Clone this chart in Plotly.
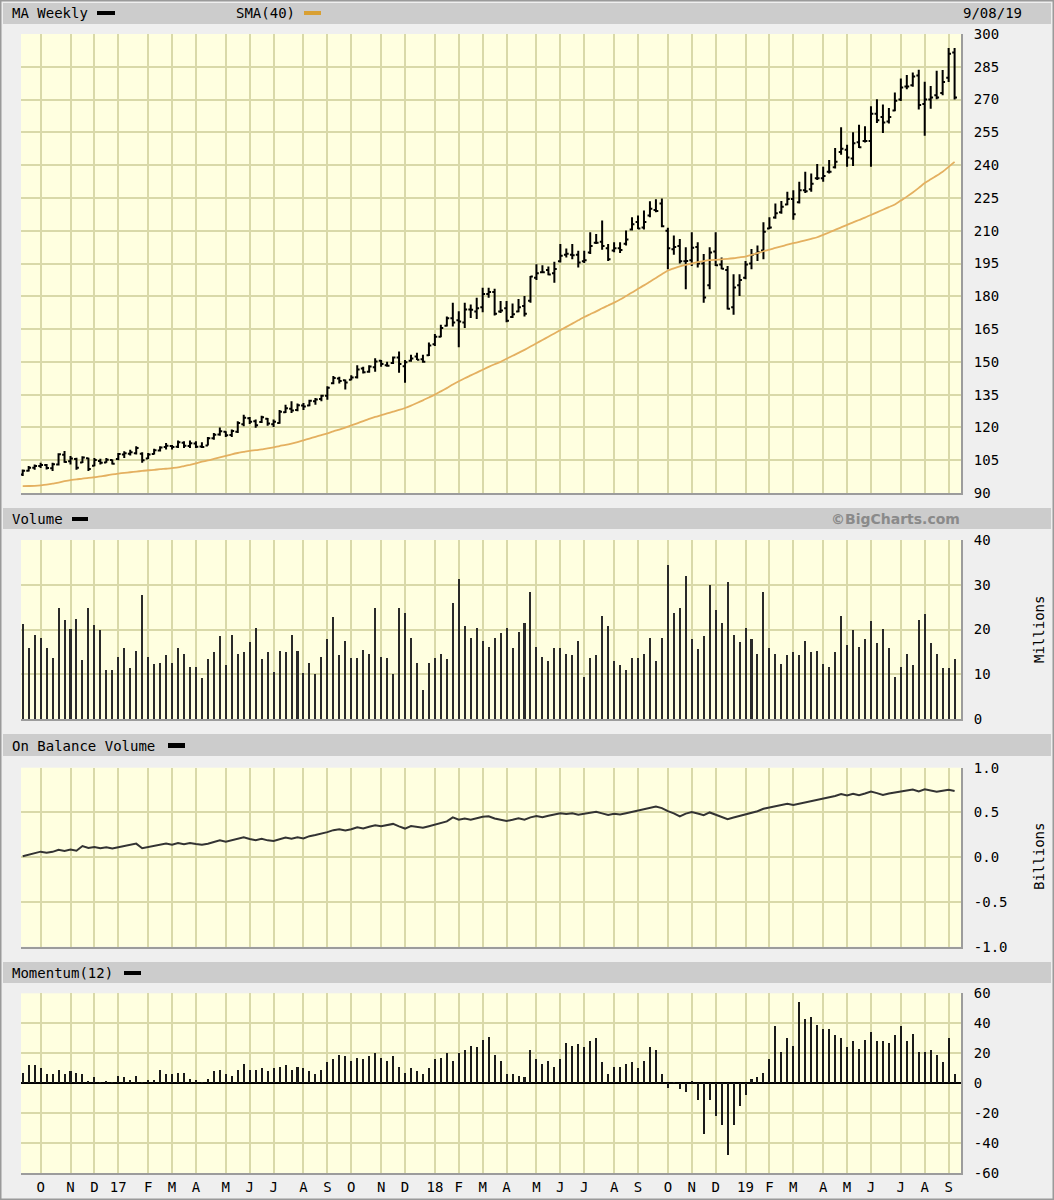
import pandas as pd
import plotly.graph_objects as go

# ---------------- data ----------------
# weekly bars, dated by the Sunday that ends each week
dates = pd.date_range("2016-09-11", periods=157, freq="7D")

high = [100.8, 102.3, 103.0, 103.8, 103.3, 103.8, 108.2, 109.2, 106.9, 106.1,
        106.8, 106.1, 106.0, 105.7, 106.0, 105.3, 108.3, 109.1, 109.8, 111.4,
        108.6, 108.3, 110.3, 111.4, 112.9, 112.0, 114.0, 113.7, 114.0, 113.7,
        113.2, 115.6, 117.5, 120.0, 118.2, 119.0, 122.8, 125.8, 124.8, 123.6,
        125.4, 124.3, 123.6, 128.0, 130.4, 132.0, 130.9, 131.2, 132.7, 133.5,
        135.0, 138.8, 143.5, 143.2, 141.9, 143.9, 148.5, 147.8, 148.5, 151.6,
        150.8, 150.1, 152.4, 154.7, 150.8, 153.2, 154.2, 153.2, 158.8, 162.8,
        167.0, 170.8, 177.0, 173.2, 177.0, 176.2, 179.3, 183.9, 183.9, 183.5,
        177.8, 177.8, 176.7, 178.8, 180.1, 189.3, 194.7, 194.2, 193.6, 195.8,
        203.9, 201.9, 203.9, 200.8, 200.8, 209.3, 208.5, 214.7, 203.9, 204.7,
        204.7, 210.1, 216.2, 217.0, 219.3, 223.5, 224.4, 224.7, 211.3, 207.8,
        206.2, 202.4, 209.3, 204.7, 199.3, 202.4, 209.3, 197.8, 193.9, 190.1,
        190.1, 196.2, 201.6, 203.2, 213.9, 216.2, 222.4, 223.6, 227.8, 228.5,
        232.4, 237.0, 236.2, 240.5, 239.3, 242.4, 247.8, 257.3, 249.3, 255.0,
        258.5, 257.8, 267.0, 270.1, 267.8, 266.2, 273.2, 279.6, 281.2, 282.4,
        283.6, 278.1, 276.2, 283.2, 283.5, 293.6, 293.6]

low = [97.8, 99.8, 100.6, 101.4, 100.7, 100.1, 102.6, 103.8, 103.0, 100.6,
       103.7, 100.1, 102.2, 103.0, 103.8, 103.0, 105.0, 106.0, 107.1, 107.6,
       103.8, 105.5, 107.6, 109.0, 109.9, 109.9, 110.6, 110.6, 110.6, 110.6,
       110.6, 111.7, 114.4, 116.2, 115.6, 115.6, 117.5, 120.5, 121.6, 119.8,
       122.0, 120.8, 120.2, 121.7, 126.6, 126.6, 127.4, 128.0, 129.7, 130.4,
       132.0, 132.7, 139.8, 140.1, 137.3, 141.6, 142.4, 144.7, 145.0, 145.5,
       147.8, 147.8, 149.0, 145.0, 140.4, 150.1, 150.8, 149.6, 152.7, 157.3,
       161.3, 166.2, 166.2, 156.7, 165.5, 170.1, 169.6, 172.7, 179.3, 171.2,
       172.4, 168.1, 170.1, 172.7, 170.8, 177.0, 187.5, 190.5, 189.6, 186.2,
       195.5, 197.8, 197.0, 193.2, 195.2, 199.3, 203.9, 201.3, 196.2, 200.1,
       199.8, 203.2, 210.1, 210.8, 210.5, 216.2, 218.5, 211.6, 192.4, 199.0,
       195.0, 183.2, 193.9, 193.2, 177.0, 183.2, 193.9, 192.4, 173.9, 171.6,
       180.1, 187.8, 192.4, 196.2, 197.0, 210.8, 215.5, 217.8, 221.6, 215.0,
       222.4, 227.3, 227.8, 233.2, 232.4, 236.2, 238.5, 244.7, 239.3, 239.6,
       247.8, 250.4, 239.3, 259.3, 254.7, 259.0, 264.7, 269.3, 274.7, 275.9,
       265.5, 253.5, 265.8, 270.1, 272.0, 278.0, 270.0]

open_ = [98.5, 100.2, 101.5, 102.4, 102.8, 101.3, 103.0, 107.5, 104.5, 105.6,
         104.0, 105.9, 102.5, 104.6, 104.0, 105.1, 105.5, 107.6, 108.0, 108.2,
         108.0, 105.8, 107.8, 109.5, 111.0, 111.5, 111.2, 113.0, 111.5, 112.6,
         111.3, 111.7, 115.0, 116.8, 118.0, 116.5, 118.0, 121.5, 124.2, 122.8,
         122.5, 124.0, 121.5, 122.0, 127.0, 128.5, 128.0, 130.0, 130.0, 132.0,
         133.0, 134.5, 140.2, 142.4, 141.6, 141.8, 143.0, 147.0, 145.5, 147.5,
         150.5, 148.4, 149.5, 152.0, 148.0, 150.5, 152.5, 151.2, 153.0, 158.0,
         161.5, 166.5, 170.0, 169.0, 168.0, 174.0, 173.0, 175.0, 181.0, 182.0,
         173.0, 174.5, 170.5, 173.0, 175.5, 178.0, 188.5, 191.0, 192.0, 190.5,
         196.0, 199.0, 199.0, 199.0, 196.0, 200.0, 204.5, 205.0, 202.0, 201.0,
         202.0, 204.0, 210.5, 214.0, 211.5, 217.0, 219.5, 222.5, 210.0, 201.5,
         203.0, 196.0, 196.5, 202.5, 195.0, 185.0, 200.5, 194.5, 192.0, 175.0,
         185.0, 188.5, 195.0, 199.5, 201.0, 211.0, 216.0, 218.5, 222.0, 224.5,
         223.0, 228.5, 229.0, 234.0, 234.0, 237.0, 239.0, 246.0, 247.0, 243.0,
         250.5, 251.0, 251.0, 263.5, 262.0, 260.0, 265.0, 270.0, 276.0, 276.5,
         281.0, 268.0, 270.0, 272.0, 273.0, 280.0, 291.5]

close = [100.2, 101.6, 102.3, 102.8, 101.4, 103.1, 107.7, 104.2, 105.8, 101.6,
         106.2, 101.0, 105.1, 103.8, 105.2, 103.4, 107.8, 108.2, 108.6, 110.6,
         105.0, 107.6, 109.6, 110.8, 111.6, 111.0, 113.2, 111.6, 112.8, 111.2,
         111.0, 115.0, 116.6, 118.2, 116.4, 118.4, 122.0, 124.4, 122.6, 121.0,
         124.6, 121.8, 122.6, 127.2, 128.8, 127.8, 130.1, 129.6, 132.2, 132.8,
         134.5, 138.2, 142.6, 141.2, 140.5, 142.8, 146.5, 145.2, 147.9, 150.2,
         149.0, 148.2, 152.0, 149.0, 149.8, 151.5, 151.0, 150.0, 157.5, 161.5,
         165.5, 170.0, 168.0, 168.5, 174.0, 173.8, 174.5, 181.0, 182.0, 172.0,
         173.5, 168.8, 171.8, 175.0, 172.0, 189.0, 190.5, 191.0, 190.0, 192.5,
         198.5, 199.5, 198.8, 195.5, 196.5, 203.0, 204.5, 203.0, 197.0, 202.0,
         201.2, 206.0, 213.0, 211.0, 214.0, 220.0, 219.0, 212.0, 202.0, 202.5,
         196.0, 196.2, 202.2, 195.0, 179.5, 200.0, 194.2, 192.6, 174.3, 184.0,
         187.5, 194.5, 199.0, 200.2, 209.5, 211.5, 218.0, 221.0, 224.5, 217.5,
         228.5, 228.0, 231.5, 234.0, 235.0, 237.0, 241.5, 247.5, 243.5, 250.0,
         248.2, 251.0, 263.5, 260.5, 259.5, 262.0, 269.5, 275.5, 276.0, 280.5,
         267.5, 270.0, 271.0, 271.0, 278.0, 291.0, 271.0]

sma40 = [93.1, 93.2, 93.3, 93.5, 93.8, 94.3, 94.8, 95.4, 95.9, 96.2,
         96.6, 96.9, 97.2, 97.6, 98.0, 98.5, 98.9, 99.2, 99.5, 99.8,
         100.1, 100.4, 100.6, 100.9, 101.1, 101.4, 101.7, 102.3, 102.9, 103.6,
         104.3, 104.9, 105.6, 106.3, 107.0, 107.7, 108.3, 108.8, 109.3, 109.6,
         110.0, 110.4, 110.9, 111.5, 112.0, 112.6, 113.3, 114.1, 114.9, 115.7,
         116.5, 117.3, 118.2, 119.0, 119.9, 120.9, 121.9, 122.9, 123.9, 124.8,
         125.6, 126.4, 127.2, 128.0, 128.9, 130.0, 131.2, 132.4, 133.7, 135.0,
         136.5, 138.0, 139.6, 141.1, 142.5, 143.8, 145.1, 146.4, 147.7, 148.9,
         150.0, 151.4, 152.8, 154.1, 155.5, 157.0, 158.5, 160.0, 161.5, 163.0,
         164.5, 166.0, 167.5, 169.0, 170.5, 171.8, 173.1, 174.5, 175.8, 177.1,
         178.5, 180.1, 181.7, 183.4, 185.0, 186.7, 188.4, 190.1, 191.8, 192.8,
         193.7, 194.4, 195.0, 195.6, 196.1, 196.5, 196.7, 196.9, 197.1, 197.4,
         197.8, 198.2, 198.9, 199.7, 200.6, 201.3, 202.1, 202.8, 203.6, 204.3,
         204.9, 205.6, 206.3, 207.0, 208.1, 209.2, 210.4, 211.5, 212.7, 213.8,
         214.9, 216.0, 217.2, 218.4, 219.6, 220.8, 222.0, 223.8, 225.6, 227.5,
         229.6, 231.8, 233.5, 235.2, 237.0, 239.2, 241.5]

volume_m = [21.2, 15.8, 18.8, 18.2, 15.8, 13.6, 24.8, 22.1, 20.1, 22.4,
            13.2, 24.8, 21.0, 19.9, 11.0, 11.0, 13.9, 15.8, 11.4, 15.2,
            27.7, 13.9, 12.3, 12.6, 14.3, 12.6, 15.8, 14.6, 11.7, 11.7,
            9.1, 13.3, 14.9, 18.5, 12.0, 18.8, 14.6, 14.9, 17.1, 20.4,
            13.3, 14.9, 10.6, 15.2, 14.9, 18.8, 15.2, 10.3, 12.6, 10.0,
            13.9, 17.9, 22.7, 14.3, 17.5, 13.6, 13.6, 15.5, 14.6, 24.8,
            13.9, 13.6, 10.0, 24.8, 23.7, 18.2, 12.6, 6.5, 12.6, 13.6,
            14.6, 13.3, 26.0, 31.3, 20.7, 18.2, 20.4, 17.5, 16.2, 18.2,
            19.2, 20.4, 15.8, 19.5, 21.4, 28.3, 16.2, 13.9, 12.9, 15.8,
            15.8, 14.6, 14.3, 17.5, 9.4, 13.6, 14.3, 23.0, 20.7, 12.9,
            12.0, 11.0, 13.6, 13.6, 14.6, 18.2, 12.9, 18.2, 34.4, 23.6,
            24.7, 31.9, 17.8, 15.6, 18.5, 29.9, 24.3, 21.4, 30.6, 18.8,
            17.2, 20.4, 17.8, 14.6, 28.3, 15.9, 14.6, 12.3, 14.3, 14.9,
            14.3, 17.5, 14.9, 15.2, 12.3, 11.6, 14.9, 23.0, 16.6, 19.9,
            16.2, 17.8, 21.8, 16.9, 20.1, 15.9, 9.4, 11.6, 14.6, 12.0,
            22.1, 23.4, 16.9, 14.6, 11.3, 11.3, 13.3]

obv_b = [0.010, 0.028, 0.045, 0.062, 0.050, 0.060, 0.082, 0.070, 0.085, 0.072,
         0.125, 0.102, 0.115, 0.101, 0.112, 0.098, 0.112, 0.128, 0.140, 0.152,
         0.100, 0.112, 0.127, 0.140, 0.152, 0.140, 0.158, 0.146, 0.158, 0.147,
         0.138, 0.150, 0.165, 0.188, 0.172, 0.188, 0.207, 0.222, 0.204, 0.190,
         0.205, 0.188, 0.182, 0.200, 0.220, 0.207, 0.222, 0.210, 0.235, 0.248,
         0.262, 0.280, 0.302, 0.312, 0.298, 0.312, 0.335, 0.322, 0.340, 0.358,
         0.345, 0.358, 0.372, 0.345, 0.320, 0.348, 0.338, 0.328, 0.345, 0.362,
         0.375, 0.400, 0.445, 0.418, 0.432, 0.420, 0.436, 0.452, 0.458, 0.432,
         0.418, 0.405, 0.418, 0.436, 0.420, 0.445, 0.460, 0.447, 0.462, 0.475,
         0.492, 0.482, 0.490, 0.475, 0.484, 0.498, 0.508, 0.490, 0.472, 0.484,
         0.476, 0.490, 0.505, 0.518, 0.532, 0.548, 0.565, 0.548, 0.514, 0.490,
         0.455, 0.487, 0.505, 0.489, 0.470, 0.500, 0.476, 0.455, 0.424, 0.443,
         0.460, 0.480, 0.498, 0.513, 0.541, 0.557, 0.572, 0.584, 0.598, 0.584,
         0.598, 0.615, 0.630, 0.645, 0.657, 0.668, 0.683, 0.706, 0.690, 0.709,
         0.693, 0.711, 0.733, 0.716, 0.696, 0.712, 0.721, 0.733, 0.745, 0.757,
         0.735, 0.758, 0.745, 0.731, 0.742, 0.753, 0.740]

momentum = [7, 12, 12, 10, 6, 6, 9, 6, 8, 7,
            6, 1, 4, 0.3, 1, 0.3, 5, 4, 2, 5,
            0.3, 2, 2, 9, 6, 6, 7, 7, 3, 2,
            0.3, 3, 8, 9, 6, 5, 9, 13, 9, 9,
            10, 8, 10, 11, 12, 9, 11, 10, 8, 6,
            9, 14, 16, 19, 18, 15, 17, 16, 18, 20,
            17, 15, 18, 11, 7, 10, 8, 6, 10, 16,
            17, 20, 15, 20, 22, 25, 24, 29, 31, 19,
            15, 6, 6, 5, 4, 22, 16, 13, 15, 11,
            16, 27, 25, 26, 24, 28, 30, 14, 6, 11,
            11, 13, 14, 10, 15, 24, 22, 6, -3, 0.3,
            -4, -6, 1, -11, -34, -11, -22, -28, -48, -28,
            -15, -8, 3, 4, 7, 16, 38, 21, 30, 25,
            54, 43, 44, 39, 36, 36, 32, 30, 24, 28,
            23, 29, 34, 28, 28, 27, 32, 38, 28, 33,
            21, 21, 22, 19, 14, 30, 6]

month_labels = ["O", "N", "D", "17", "F", "M", "A", "M", "J", "J", "A", "S",
                "O", "N", "D", "18", "F", "M", "A", "M", "J", "J", "A", "S",
                "O", "N", "D", "19", "F", "M", "A", "M", "J", "J", "A", "S"]
price_ticks = list(range(90, 301, 15))
vol_ticks = [0, 10, 20, 30, 40]
obv_ticks = [-1.0, -0.5, 0.0, 0.5, 1.0]
obv_ticktext = ["-1.0", "-0.5", "0.0", "0.5", "1.0"]
mom_ticks = [-60, -40, -20, 0, 20, 40, 60]
mom_ticktext = ["-60", "-40", "-20", "0", "20", "40", "60"]

# ---------------- layout helpers ----------------
W, H = 1054, 1200
def px(x):
    return x / W
def py(y):
    return 1 - y / H

# first weekly bar of each month -> month gridlines / labels
month_ticks = []
prev = dates[0].month
for d in dates[1:]:
    if d.month != prev:
        month_ticks.append(d.strftime("%Y-%m-%d"))
        prev = d.month

FONT = "DejaVu Sans Mono"
GRID = "#d9d9a9"
BG = "#ffffe0"
BAR_W = 2.4 * 86400000  # ms (about 2px)

xrange_ = [(dates[0] - pd.Timedelta(days=2)).strftime("%Y-%m-%d"),
           (dates[-1] + pd.Timedelta(days=7.5)).strftime("%Y-%m-%d %H:%M")]

fig = go.Figure()

fig.add_trace(go.Ohlc(x=dates, open=open_, high=high, low=low, close=close,
                      increasing=dict(line=dict(color="black", width=2)),
                      decreasing=dict(line=dict(color="black", width=2)),
                      tickwidth=0.4, xaxis="x", yaxis="y", hoverinfo="skip"))
fig.add_trace(go.Scatter(x=dates, y=sma40, mode="lines",
                         line=dict(color="#e4b060", width=1.8, shape="spline", smoothing=0.6),
                         xaxis="x", yaxis="y", hoverinfo="skip"))
fig.add_trace(go.Bar(x=dates, y=volume_m, width=BAR_W,
                     marker=dict(color="#2a2a2a", line=dict(width=0)),
                     xaxis="x2", yaxis="y2", hoverinfo="skip"))
fig.add_trace(go.Scatter(x=dates, y=obv_b, mode="lines",
                         line=dict(color="#333333", width=2),
                         xaxis="x3", yaxis="y3", hoverinfo="skip"))
fig.add_trace(go.Bar(x=dates, y=momentum, width=BAR_W,
                     marker=dict(color="#1a1a1a", line=dict(width=0)),
                     xaxis="x4", yaxis="y4", hoverinfo="skip"))

xdom = [px(21), px(961)]
def xax(anchor, labels):
    return dict(domain=xdom, anchor=anchor, type="date", range=xrange_,
                tickmode="array", tickvals=month_ticks, ticktext=month_labels,
                showticklabels=labels, ticks="", showgrid=True,
                gridcolor=GRID, gridwidth=2, showline=True,
                linecolor="#9c9c9c", linewidth=2, zeroline=False,
                automargin=False, ticklabelstandoff=0,
                rangeslider=dict(visible=False), fixedrange=True,
                tickfont=dict(family=FONT, size=14, color="black"))

def yax(anchor, dom, rng, tv, tt=None, zl=False):
    d = dict(domain=dom, anchor=anchor, range=rng, side="right",
             tickmode="array", tickvals=tv, showgrid=True, gridcolor=GRID,
             gridwidth=2, showline=True, linecolor="#9c9c9c", linewidth=2,
             ticks="", ticklabelstandoff=8, fixedrange=True, automargin=False,
             zeroline=zl, zerolinecolor="black", zerolinewidth=2,
             tickfont=dict(family=FONT, size=14, color="black"))
    if tt is not None:
        d["ticktext"] = tt
    return d

shapes = [
    # outer frame
    dict(type="rect", xref="paper", yref="paper", x0=0, x1=1, y0=0, y1=1,
         line=dict(color="#9a9a9a", width=3), fillcolor="rgba(0,0,0,0)", layer="below"),
]
for (t, b) in [(3, 24), (508, 529), (734, 756), (962, 983)]:
    shapes.append(dict(type="rect", xref="paper", yref="paper",
                       x0=px(3), x1=px(1051), y0=py(b), y1=py(t),
                       line=dict(width=0), fillcolor="#cccccc", layer="below"))
# legend dashes
for (x0, x1, y0, y1, col) in [(97, 115, 11, 15, "black"), (304, 321, 11, 15, "#d9a033"),
                              (72, 88, 517, 521, "black"), (168, 185, 743, 748, "black"),
                              (124, 141, 971, 975, "black")]:
    shapes.append(dict(type="rect", xref="paper", yref="paper",
                       x0=px(x0), x1=px(x1), y0=py(y1), y1=py(y0),
                       line=dict(width=0), fillcolor=col, layer="above"))

def ann(text, x, y, xanchor="left", size=14, color="black", family=FONT, angle=0):
    return dict(text=text, xref="paper", yref="paper", x=px(x), y=py(y),
                xanchor=xanchor, yanchor="middle", showarrow=False,
                textangle=angle, font=dict(family=family, size=size, color=color))

annotations = [
    ann("MA Weekly", 10, 13),
    ann("SMA(40)", 234, 13),
    ann("9/08/19", 1024, 13, xanchor="right"),
    ann("Volume", 10, 519),
    ann("<b>©BigCharts.com</b>", 962, 519, xanchor="right", size=14,
        color="#8a8a8a", family="DejaVu Sans"),
    ann("On Balance Volume", 10, 746),
    ann("Momentum(12)", 10, 973),
    dict(text="Millions", xref="paper", yref="paper", x=px(1039), y=py(630),
         xanchor="center", yanchor="middle", showarrow=False, textangle=-90,
         font=dict(family=FONT, size=14, color="black")),
    dict(text="Billions", xref="paper", yref="paper", x=px(1039), y=py(857),
         xanchor="center", yanchor="middle", showarrow=False, textangle=-90,
         font=dict(family=FONT, size=14, color="black")),
]

fig.update_layout(
    template="none",
    width=W, height=H, autosize=False,
    margin=dict(l=0, r=0, t=0, b=0, pad=0, autoexpand=False),
    paper_bgcolor="#efefef", plot_bgcolor=BG,
    showlegend=False, bargap=0,
    font=dict(family=FONT, size=14, color="black"),
    xaxis=xax("y", False),
    xaxis2=xax("y2", False),
    xaxis3=xax("y3", False),
    xaxis4=xax("y4", True),
    yaxis=yax("x", [py(493), py(34)], [90, 300], price_ticks),
    yaxis2=yax("x2", [py(719), py(540)], [0, 40], vol_ticks),
    yaxis3=yax("x3", [py(946.7), py(767.7)], [-1, 1], obv_ticks, obv_ticktext),
    yaxis4=yax("x4", [py(1173.3), py(993.3)], [-60, 60], mom_ticks, mom_ticktext, zl=True),
    shapes=shapes, annotations=annotations,
)

fig.write_html("out.html", config={"displayModeBar": False},
               post_script="document.body.style.margin='0px';"
                           "document.body.style.overflow='hidden';")
